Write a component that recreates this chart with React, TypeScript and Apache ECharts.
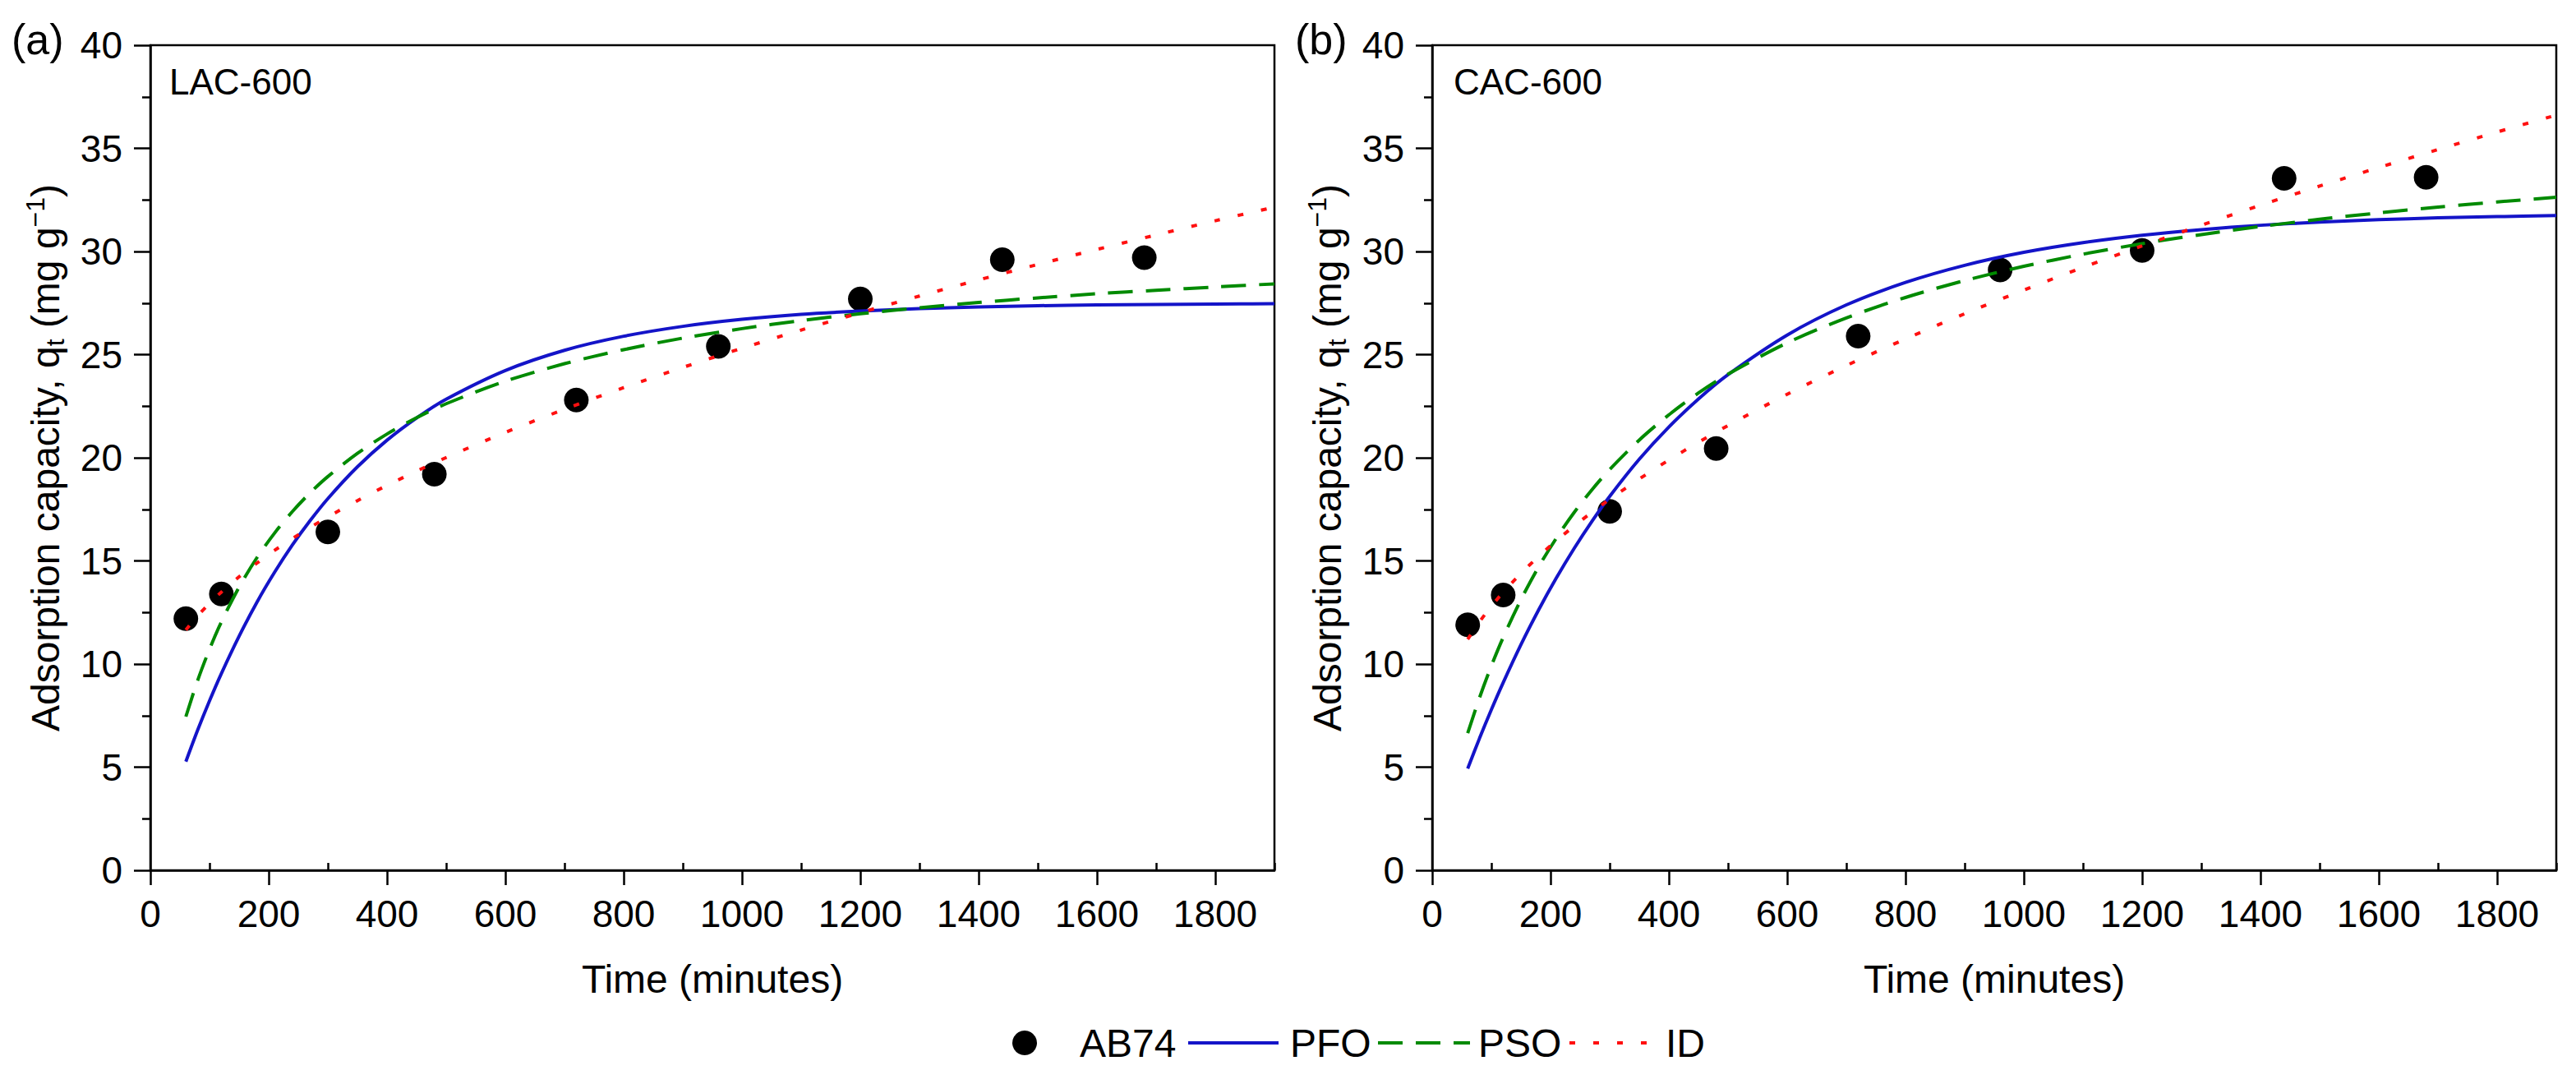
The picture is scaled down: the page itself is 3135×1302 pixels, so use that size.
import React, { useEffect, useRef } from "react";
import * as echarts from "echarts";

// Experimental points (time in minutes, adsorption capacity)
const TIMES_EXP = [60, 120, 300, 480, 720, 960, 1200, 1440, 1680];
const LAC_EXP = [12.2, 13.4, 16.4, 19.2, 22.8, 25.4, 27.7, 29.6, 29.7];
const CAC_EXP = [11.9, 13.35, 17.4, 20.45, 25.9, 29.1, 30.05, 33.55, 33.6];

// Model curves
const T_FIT = [60, 80, 100, 120, 150, 180, 210, 240, 270, 300, 350, 400, 450, 500, 600, 700, 800, 900, 1000, 1100, 1200, 1300, 1400, 1500, 1600, 1700, 1800, 1900];
const LAC_PFO = [5.27, 6.8, 8.22, 9.54, 11.35, 12.99, 14.45, 15.77, 16.95, 18.02, 19.56, 20.85, 21.93, 22.84, 24.23, 25.21, 25.89, 26.37, 26.71, 26.95, 27.11, 27.23, 27.31, 27.37, 27.41, 27.43, 27.45, 27.47];
const LAC_PSO = [7.45, 9.21, 10.72, 12.04, 13.73, 15.15, 16.35, 17.39, 18.3, 19.09, 20.21, 21.15, 21.94, 22.62, 23.71, 24.56, 25.24, 25.8, 26.26, 26.65, 26.98, 27.27, 27.53, 27.75, 27.95, 28.12, 28.28, 28.43];
const LAC_ID = [11.65, 12.34, 12.94, 13.49, 14.23, 14.89, 15.51, 16.08, 16.62, 17.13, 17.92, 18.66, 19.35, 20.01, 21.23, 22.35, 23.4, 24.38, 25.31, 26.19, 27.03, 27.84, 28.62, 29.37, 30.1, 30.8, 31.49, 32.15];
const CAC_PFO = [4.93, 6.4, 7.79, 9.1, 10.94, 12.63, 14.18, 15.61, 16.92, 18.13, 19.93, 21.49, 22.85, 24.03, 25.95, 27.41, 28.5, 29.33, 29.96, 30.43, 30.79, 31.06, 31.27, 31.42, 31.54, 31.63, 31.69, 31.74];
const CAC_PSO = [6.65, 8.37, 9.91, 11.29, 13.12, 14.72, 16.11, 17.35, 18.45, 19.43, 20.86, 22.08, 23.14, 24.05, 25.57, 26.78, 27.77, 28.59, 29.28, 29.87, 30.38, 30.82, 31.21, 31.56, 31.87, 32.15, 32.4, 32.63];
const CAC_ID = [11.2, 12.05, 12.8, 13.48, 14.39, 15.22, 15.98, 16.69, 17.36, 17.99, 18.97, 19.89, 20.75, 21.56, 23.08, 24.47, 25.76, 26.98, 28.13, 29.23, 30.27, 31.27, 32.24, 33.17, 34.07, 34.94, 35.79, 36.61];

// Axis ticks
const X_MAJOR_TICKS = [0, 200, 400, 600, 800, 1000, 1200, 1400, 1600, 1800];
const X_MINOR_TICKS = [100, 300, 500, 700, 900, 1100, 1300, 1500, 1700, 1900];
const PANEL_LABELS = ["(a)", "(b)"];
const SAMPLE_NAMES = ["LAC-600", "CAC-600"];
const LEGEND_NAMES = ["AB74", "PFO", "PSO", "ID"];

const FONT = "'Liberation Sans', Arial, Helvetica, sans-serif";
const COLORS = { AB74: "#000000", PFO: "#1414c8", PSO: "#008a00", ID: "#ff1010" };

const zip = (xs: number[], ys: number[]) => xs.map((x, i) => [x, ys[i]]);

export default function App() {
  const ref = useRef<HTMLDivElement>(null);
  useEffect(() => {
    document.body.style.margin = "0";
    if (!ref.current) return;
    const chart = echarts.init(ref.current, null, { renderer: "svg" });

    const grids = [
      { left: 183, top: 55, width: 1368, height: 1004, show: true, borderColor: "#000", borderWidth: 2.5, backgroundColor: "transparent" },
      { left: 1743, top: 55, width: 1368, height: 1004, show: true, borderColor: "#000", borderWidth: 2.5, backgroundColor: "transparent" },
    ];

    const axisLineStyle = { color: "#000", width: 2.5 };
    const xAxes: any[] = [];
    const yAxes: any[] = [];
    [0, 1].forEach((g) => {
      xAxes.push({
        type: "value",
        gridIndex: g,
        min: 0,
        max: 1900,
        axisLine: { show: true, onZero: false, lineStyle: axisLineStyle },
        axisTick: { show: true, length: 18, lineStyle: axisLineStyle, customValues: X_MAJOR_TICKS },
        axisLabel: {
          customValues: X_MAJOR_TICKS,
          formatter: (v: number) => String(v),
          fontSize: 46,
          color: "#000",
          fontFamily: FONT,
          margin: 30,
        },
        splitLine: { show: false },
        name: "Time (minutes)",
        nameLocation: "middle",
        nameGap: 108,
        nameTextStyle: { fontSize: 48, color: "#000", fontFamily: FONT },
      });
      xAxes.push({
        type: "value",
        gridIndex: g,
        min: 0,
        max: 1900,
        axisLine: { show: false },
        axisTick: { show: true, length: 9, lineStyle: axisLineStyle, customValues: X_MINOR_TICKS },
        axisLabel: { show: false },
        splitLine: { show: false },
      });
      yAxes.push({
        type: "value",
        gridIndex: g,
        min: 0,
        max: 40,
        interval: 5,
        axisLine: { show: true, onZero: false, lineStyle: axisLineStyle },
        axisTick: { show: true, length: 20, lineStyle: axisLineStyle },
        minorTick: { show: true, splitNumber: 2, length: 10, lineStyle: axisLineStyle },
        axisLabel: { fontSize: 46, color: "#000", fontFamily: FONT, margin: 34 },
        splitLine: { show: false },
        minorSplitLine: { show: false },
        name: "Adsorption capacity, q{sub|t} (mg g{sup|\u22121})",
        nameLocation: "middle",
        nameRotate: 90,
        nameGap: 100,
        nameTextStyle: {
          fontSize: 48,
          color: "#000",
          fontFamily: FONT,
          lineHeight: 56,
          rich: {
            sub: { fontSize: 32, color: "#000", fontFamily: FONT, lineHeight: 32, verticalAlign: "bottom" },
            sup: { fontSize: 32, color: "#000", fontFamily: FONT, lineHeight: 32, verticalAlign: "top" },
          },
        },
      });
    });

    const panels = [
      { exp: LAC_EXP, pfo: LAC_PFO, pso: LAC_PSO, id: LAC_ID },
      { exp: CAC_EXP, pfo: CAC_PFO, pso: CAC_PSO, id: CAC_ID },
    ];
    const series: any[] = [];
    panels.forEach((p, g) => {
      const xi = g * 2;
      series.push({
        type: "scatter",
        name: "AB74",
        xAxisIndex: xi,
        yAxisIndex: g,
        data: zip(TIMES_EXP, p.exp),
        symbol: "circle",
        symbolSize: 30,
        itemStyle: { color: COLORS.AB74, opacity: 1 },
        z: 2,
      });
      const lineDefs = [
        { name: "PFO", data: p.pfo, type: "solid" as any, color: COLORS.PFO },
        { name: "PSO", data: p.pso, type: [30, 16], color: COLORS.PSO },
        { name: "ID", data: p.id, type: [7, 22], color: COLORS.ID },
      ];
      lineDefs.forEach((d) => {
        series.push({
          type: "line",
          name: d.name,
          xAxisIndex: xi,
          yAxisIndex: g,
          data: zip(T_FIT, d.data),
          symbol: "none",
          showSymbol: false,
          smooth: 0.3,
          lineStyle: { color: d.color, width: 4, type: d.type },
          itemStyle: { color: d.color },
          z: 3,
        });
      });
    });

    const graphics: any[] = [
      { type: "text", left: 14, top: 22, style: { text: PANEL_LABELS[0], fontSize: 52, fill: "#000", fontFamily: FONT } },
      { type: "text", left: 1576, top: 22, style: { text: PANEL_LABELS[1], fontSize: 52, fill: "#000", fontFamily: FONT } },
      { type: "text", left: 206, top: 77, style: { text: SAMPLE_NAMES[0], fontSize: 44, fill: "#000", fontFamily: FONT } },
      { type: "text", left: 1769, top: 77, style: { text: SAMPLE_NAMES[1], fontSize: 44, fill: "#000", fontFamily: FONT } },
    ];

    // one legend component per entry so each can be placed where the reference has it
    const legendSlots = [
      { left: 1232, width: 30, pad: 47 },
      { left: 1444, width: 110, pad: 9 },
      { left: 1675, width: 112, pad: 5 },
      { left: 1908, width: 100, pad: 12 },
    ];
    const legends = LEGEND_NAMES.map((n, i) => ({
      data: [
        n === "AB74"
          ? { name: n, icon: "circle", itemStyle: { color: "#000", opacity: 1 } }
          : { name: n, itemStyle: { opacity: 0 } },
      ],
      left: legendSlots[i].left,
      top: 1245,
      padding: 0,
      itemWidth: legendSlots[i].width,
      itemHeight: 30,
      selectedMode: false,
      lineStyle: { width: 4 },
      textStyle: { fontSize: 48, color: "#000", fontFamily: FONT, padding: [0, 0, 0, legendSlots[i].pad] },
    }));

    chart.setOption({
      animation: false,
      backgroundColor: "#fff",
      grid: grids,
      xAxis: xAxes,
      yAxis: yAxes,
      series,
      graphic: graphics,
      legend: legends,
    });
    return () => chart.dispose();
  }, []);
  return <div ref={ref} style={{ width: 3135, height: 1302 }} />;
}
